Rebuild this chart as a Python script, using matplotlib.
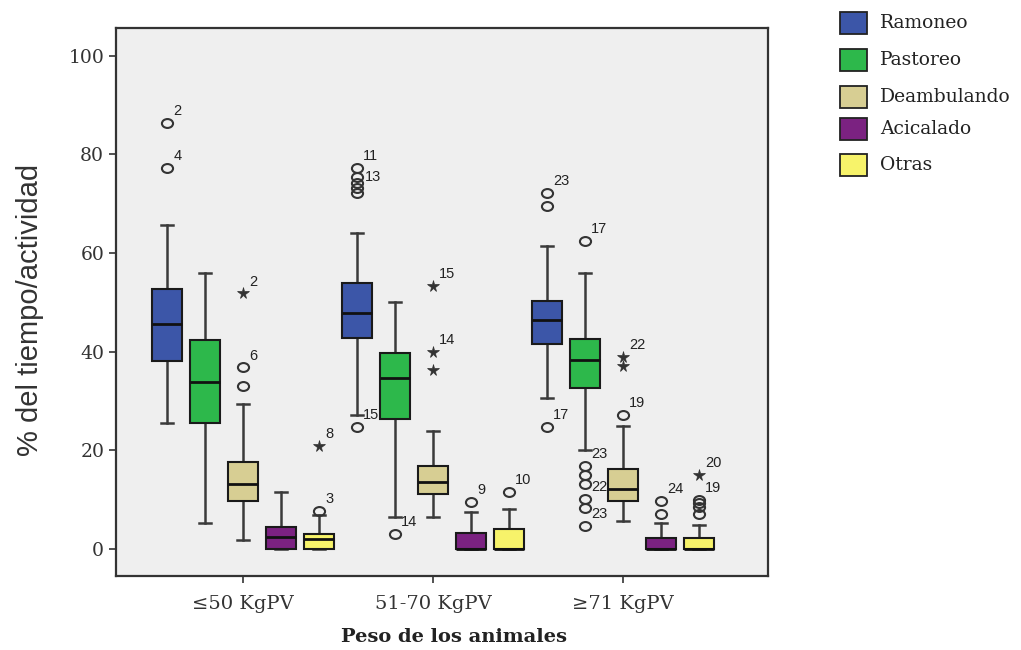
import matplotlib

matplotlib.use("Agg")
import matplotlib.pyplot as plt
from matplotlib.patches import Rectangle
from matplotlib.path import Path

# --- Data --------------------------------------------------------------------
GROUPS = ["≤50 KgPV", "51-70 KgPV", "≥71 KgPV"]
ACTIVITIES = ["Ramoneo", "Pastoreo", "Deambulando", "Acicalado", "Otras"]
COLORS = ["#3c56a8", "#2db84b", "#d7ce93", "#7b2281", "#f7f36a"]

# five-number summaries, one list per activity, one entry per weight group
# (whisker low, Q1, median, Q3, whisker high)
RAMONEO = [(25.6, 38.0, 45.5, 52.6, 65.7),
           (27.2, 42.7, 47.8, 53.9, 64.0),
           (30.5, 41.5, 46.5, 50.2, 61.4)]
PASTOREO = [(5.3, 25.6, 33.9, 42.3, 55.9),
            (6.5, 26.4, 34.7, 39.7, 50.0),
            (20.1, 32.7, 38.2, 42.5, 56.0)]
DEAMBULANDO = [(1.8, 9.8, 13.2, 17.7, 29.3),
               (6.5, 11.1, 13.6, 16.7, 23.8),
               (5.7, 9.8, 12.2, 16.1, 25.0)]
ACICALADO = [(0.0, 0.0, 2.4, 4.5, 11.6),
             (0.0, 0.0, 0.0, 3.3, 7.5),
             (0.0, 0.0, 0.0, 2.2, 5.3)]
OTRAS = [(0.0, 0.0, 2.0, 3.0, 6.8),
         (0.0, 0.0, 0.0, 4.0, 8.1),
         (0.0, 0.0, 0.0, 2.2, 4.8)]
SUMMARIES = [RAMONEO, PASTOREO, DEAMBULANDO, ACICALADO, OTRAS]

# outliers drawn as circles: group index, activity index, value, case label
CIRC_GROUP = [0, 0, 1, 1, 1, 1, 1, 1, 2, 2, 2,
              1, 2, 2, 2, 2, 2, 2, 2,
              0, 0, 2, 1, 2, 2, 0, 1, 2, 2, 2, 2]
CIRC_ACT = [0, 0, 0, 0, 0, 0, 0, 0, 0, 0, 0,
            1, 1, 1, 1, 1, 1, 1, 1,
            2, 2, 2, 3, 3, 3, 4, 4, 4, 4, 4, 4]
CIRC_VAL = [86.4, 77.2, 77.2, 75.4, 74.2, 73.2, 72.2, 24.8, 72.1, 69.5, 24.8,
            3.1, 62.4, 16.9, 15.0, 13.2, 10.2, 8.3, 4.7,
            36.8, 33.1, 27.2, 9.6, 9.8, 7.1, 7.7, 11.6, 10.0, 9.4, 8.4, 7.1]
CIRC_LAB = ["2", "4", "11", "13", "", "", "", "15", "23", "", "17",
            "14", "17", "23", "", "", "22", "", "23",
            "6", "", "19", "9", "24", "", "3", "10", "19", "", "", ""]

# extreme outliers drawn as stars
STAR_GROUP = [0, 0, 1, 1, 1, 2, 2, 2]
STAR_ACT = [2, 4, 2, 2, 2, 2, 2, 4]
STAR_VAL = [51.8, 20.9, 53.3, 39.9, 36.3, 38.9, 37.0, 15.0]
STAR_LAB = ["2", "8", "15", "14", "", "22", "", "20"]

SPACING = 0.2
BOX_W = 0.158


def xpos(g, a):
    return g + (a - 2) * SPACING


# slightly wide open circle, like the stretched SPSS markers
_circ = Path.unit_circle()
ELLIPSE = Path(_circ.vertices * [1.25, 1.0], _circ.codes)

fig = plt.figure(figsize=(10.21, 6.5), dpi=100)
fig.patch.set_facecolor("white")
ax = fig.add_axes([116 / 1021, 74 / 650, 652 / 1021, 548 / 650])
ax.set_facecolor("#efefef")

stats, positions = [], []
for a, summ in enumerate(SUMMARIES):
    for g, (lo, q1, med, q3, hi) in enumerate(summ):
        stats.append({"whislo": lo, "q1": q1, "med": med, "q3": q3,
                      "whishi": hi, "fliers": []})
        positions.append(xpos(g, a))

arts = ax.bxp(stats, positions=positions, widths=BOX_W, patch_artist=True,
              showfliers=False, capwidths=0.065,
              boxprops=dict(edgecolor="#1a1a1a", linewidth=1.5),
              medianprops=dict(color="#111111", linewidth=2.0),
              whiskerprops=dict(color="#3a3a3a", linewidth=1.8),
              capprops=dict(color="#3a3a3a", linewidth=1.8))
for i, box in enumerate(arts["boxes"]):
    box.set_facecolor(COLORS[i // len(GROUPS)])
    box.set_zorder(3)
for m in arts["medians"]:
    m.set_zorder(4)

lab_font = dict(fontsize=10.5, family="Liberation Sans", color="#222222",
                ha="left", va="center")
special = {("13", 75.4): (6, 0)}

for g, a, v, lab in zip(CIRC_GROUP, CIRC_ACT, CIRC_VAL, CIRC_LAB):
    x = xpos(g, a)
    ax.plot(x, v, marker=ELLIPSE, markersize=8, markerfacecolor="none",
            markeredgecolor="#333333", markeredgewidth=1.5, zorder=5)
    if lab:
        off = special.get((lab, v), (4.5, 8.5))
        ax.annotate(lab, (x, v), xytext=off, textcoords="offset points",
                    **lab_font)

for g, a, v, lab in zip(STAR_GROUP, STAR_ACT, STAR_VAL, STAR_LAB):
    x = xpos(g, a)
    ax.plot(x, v, marker="*", markersize=8.5, color="#333333",
            markeredgewidth=0.5, zorder=5)
    if lab:
        ax.annotate(lab, (x, v), xytext=(4.5, 8.5),
                    textcoords="offset points", **lab_font)

ax.set_xlim(-0.668, 2.763)
ax.set_ylim(-5.5, 105.6)
ax.set_yticks([0, 20, 40, 60, 80, 100])
ax.set_xticks(range(len(GROUPS)))
ax.set_xticklabels(GROUPS)
ax.tick_params(axis="both", direction="out", length=5, width=1.2,
               color="#333333", labelcolor="#333333")
ax.tick_params(axis="y", labelsize=13.5)
ax.tick_params(axis="x", labelsize=14, pad=9)
for t in ax.get_xticklabels() + ax.get_yticklabels():
    t.set_family("DejaVu Serif")
for sp in ax.spines.values():
    sp.set_linewidth(1.6)
    sp.set_color("#333333")

fig.text(30 / 1021, 1 - 310 / 650, "% del tiempo/actividad", rotation=90,
         ha="center", va="center", fontsize=21, family="Liberation Sans",
         color="#333333")
fig.text(454 / 1021, 1 - 637 / 650, "Peso de los animales", ha="center",
         va="center", fontsize=14, family="DejaVu Serif", weight="bold",
         color="#222222")

# legend drawn by hand to sit in the right margin like the original
leg_y = [23, 60, 97, 129, 165]
for name, col, yc in zip(ACTIVITIES, COLORS, leg_y):
    fig.add_artist(Rectangle((840 / 1021, 1 - (yc + 11) / 650), 27 / 1021,
                             22 / 650, transform=fig.transFigure,
                             facecolor=col, edgecolor="#222222", linewidth=1.3))
    fig.text(880 / 1021, 1 - yc / 650, name, ha="left", va="center",
             fontsize=13.5, family="DejaVu Serif", color="#222222")

fig.savefig("out.png", dpi=100)
